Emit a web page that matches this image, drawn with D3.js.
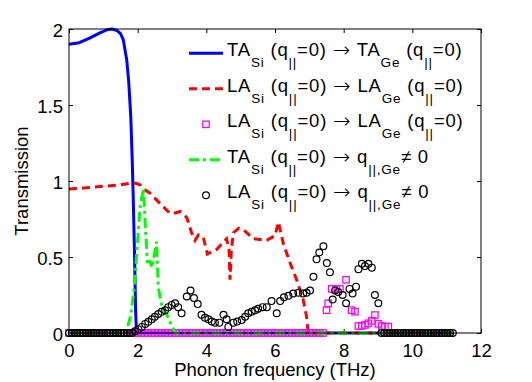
<!DOCTYPE html>
<html>
<head>
<meta charset="utf-8">
<script src="https://cdn.jsdelivr.net/npm/d3@7"></script>
<style>
  body { margin: 0; background: #fff; }
  svg { display: block; font-family: "Liberation Sans", Arial, Helvetica, sans-serif; }
</style>
</head>
<body>
<div id="chart"></div>
<script>
"use strict"

// TA(Si) -> TA(Ge), solid blue
const taFreq = [0, 0.3, 0.6, 0.9, 1.1, 1.25, 1.4, 1.5, 1.58, 1.68, 1.74, 1.8, 1.84, 1.87, 1.91, 1.94, 1.96, 1.99, 11.2]
const taTrans = [1.9, 1.91, 1.94, 1.975, 1.995, 2.0, 1.99, 1.97, 1.93, 1.8, 1.65, 1.42, 1.15, 0.9, 0.5, 0.15, 0.03, 0, 0]

// LA(Si) -> LA(Ge), dashed red
const laFreq = [0, 0.5, 1.0, 1.5, 1.78, 1.95, 2.07, 2.16, 2.36, 2.65, 2.94, 3.1, 3.23, 3.43, 3.57, 3.67, 3.77, 3.91,
  4.03, 4.3, 4.59, 4.66, 4.69, 4.73, 4.79, 4.95, 5.08, 5.37, 5.76, 6.0, 6.1, 6.24, 6.44, 6.63, 6.82, 6.92, 6.96, 7.0, 11.2]
const laTrans = [0.947, 0.955, 0.965, 0.975, 0.985, 0.985, 0.975, 0.95, 0.92, 0.853, 0.787, 0.79, 0.8, 0.76, 0.66, 0.61, 0.645, 0.63,
  0.52, 0.55, 0.62, 0.55, 0.35, 0.55, 0.66, 0.69, 0.68, 0.62, 0.61, 0.64, 0.73, 0.59, 0.46, 0.35, 0.22, 0.107, 0.02, 0, 0]

// LA(Si) -> LA(Ge), magenta squares
const sqFreq = [0, 0.1, 0.2, 0.3, 0.4, 0.5, 0.6, 0.7, 0.8, 0.9, 1.0, 1.1, 1.2, 1.3, 1.4, 1.5, 1.6, 1.7, 1.8, 1.9,
  2.0, 2.1, 2.2, 2.3, 2.4, 2.5, 2.6, 2.7, 2.8, 2.9, 3.0, 3.1, 3.2, 3.3, 3.4, 3.5, 3.6, 3.7, 3.8, 3.9,
  4.0, 4.1, 4.2, 4.3, 4.4, 4.5, 4.6, 4.7, 4.8, 4.9, 5.0, 5.1, 5.2, 5.3, 5.4, 5.5, 5.6, 5.7, 5.8, 5.9,
  6.0, 6.1, 6.2, 6.3, 6.4, 6.5, 6.6, 6.7, 6.8, 6.9, 7.0, 7.1, 7.2, 7.3, 7.4,
  7.5, 7.55, 7.65, 7.78, 7.89, 8.07, 8.23, 8.33, 8.43, 8.53, 8.62, 8.72, 8.82, 8.91, 9.01, 9.11, 9.2, 9.3]
const sqTrans = [0, 0, 0, 0, 0, 0, 0, 0, 0, 0, 0, 0, 0, 0, 0, 0, 0, 0, 0, 0,
  0, 0, 0, 0, 0, 0, 0, 0, 0, 0, 0, 0, 0, 0, 0, 0, 0, 0, 0, 0,
  0, 0, 0, 0, 0, 0, 0, 0, 0, 0, 0, 0, 0, 0, 0, 0, 0, 0, 0, 0,
  0, 0, 0, 0, 0, 0, 0, 0, 0, 0, 0, 0, 0, 0, 0,
  0.15, 0.195, 0.29, 0.29, 0.29, 0.35, 0.15, 0.14, 0.046, 0.046, 0.053, 0.064, 0.08, 0.118, 0.06, 0.046, 0.042, 0.042]

// TA(Si) -> q != 0, green dash-dot
const tqFreq = [0, 1.6, 1.7, 1.8, 1.9, 1.97, 2.07, 2.17, 2.22, 2.28, 2.36, 2.42, 2.55, 2.6, 2.7, 2.85, 3.0, 3.1, 11.2]
const tqTrans = [0, 0, 0.03, 0.12, 0.3, 0.52, 0.83, 0.95, 0.72, 0.47, 0.47, 0.43, 0.6, 0.3, 0.18, 0.12, 0.04, 0, 0]

// LA(Si) -> q != 0, black circles
const lqFreq = [0, 0.08, 0.16, 0.24, 0.32, 0.4, 0.48, 0.56, 0.64, 0.72, 0.8, 0.88, 0.96, 1.04, 1.12, 1.2,
  1.28, 1.36, 1.44, 1.52, 1.6, 1.68, 1.76, 1.84,
  1.92, 2.02, 2.12, 2.22, 2.31, 2.41, 2.5, 2.6, 2.7, 2.8, 2.89, 2.99, 3.09, 3.18, 3.28, 3.43, 3.54, 3.64,
  3.75, 3.86, 3.96, 4.06, 4.16, 4.25, 4.38, 4.5, 4.59, 4.64, 4.79, 4.9, 5.03, 5.13, 5.22, 5.32, 5.42, 5.51,
  5.64, 5.76, 5.9, 6.05, 6.15, 6.26, 6.39, 6.53, 6.68, 6.82, 6.92, 7.02, 7.12, 7.21, 7.29, 7.41, 7.51, 7.6,
  7.68, 7.75, 7.84, 7.97, 8.07, 8.17, 8.26, 8.36, 8.43, 8.53, 8.62, 8.72, 8.82, 8.91, 9.01,
  9.1, 9.18, 9.26, 9.34, 9.42, 9.5, 9.58, 9.66, 9.74, 9.82, 9.9, 9.98, 10.06, 10.14, 10.22, 10.3,
  10.38, 10.46, 10.54, 10.62, 10.7, 10.78, 10.86, 10.94, 11.02, 11.1, 11.18]
const lqTrans = [0, 0, 0, 0, 0, 0, 0, 0, 0, 0, 0, 0, 0, 0, 0, 0,
  0, 0, 0, 0, 0, 0, 0, 0,
  0.012, 0.024, 0.04, 0.06, 0.074, 0.09, 0.107, 0.125, 0.14, 0.15, 0.17, 0.185, 0.195, 0.17, 0.13, 0.24, 0.28, 0.23,
  0.19, 0.12, 0.1, 0.09, 0.075, 0.068, 0.068, 0.12, 0.09, 0.04, 0.068, 0.075, 0.085, 0.107, 0.13, 0.14, 0.15, 0.16,
  0.17, 0.17, 0.21, 0.13, 0.21, 0.235, 0.245, 0.26, 0.265, 0.26, 0.265, 0.28, 0.37, 0.485, 0.53, 0.57, 0.46, 0.4,
  0.22, 0.28, 0.27, 0.25, 0.195, 0.29, 0.26, 0.305, 0.42, 0.455, 0.44, 0.455, 0.43, 0.25, 0.195,
  0, 0, 0, 0, 0, 0, 0, 0, 0, 0, 0, 0, 0, 0, 0, 0,
  0, 0, 0, 0, 0, 0, 0, 0, 0, 0, 0]

const xTicks = [0, 2, 4, 6, 8, 10, 12]
const yTicks = [0, 0.5, 1, 1.5, 2]

// legend text pieces: [text, kind] kind 0 normal, 1 subscript, 2 arrow
const legendLabels = [
  [["TA", 0], ["Si", 1], [" (q", 0], ["||", 1], ["=0) ", 0], ["\u2192", 2], [" TA", 0], ["Ge", 1], [" (q", 0], ["||", 1], ["=0)", 0]],
  [["LA", 0], ["Si", 1], [" (q", 0], ["||", 1], ["=0) ", 0], ["\u2192", 2], [" LA", 0], ["Ge", 1], [" (q", 0], ["||", 1], ["=0)", 0]],
  [["LA", 0], ["Si", 1], [" (q", 0], ["||", 1], ["=0) ", 0], ["\u2192", 2], [" LA", 0], ["Ge", 1], [" (q", 0], ["||", 1], ["=0)", 0]],
  [["TA", 0], ["Si", 1], [" (q", 0], ["||", 1], ["=0) ", 0], ["\u2192", 2], [" q", 0], ["||,Ge", 1], ["\u2260 0", 0]],
  [["LA", 0], ["Si", 1], [" (q", 0], ["||", 1], ["=0) ", 0], ["\u2192", 2], [" q", 0], ["||,Ge", 1], ["\u2260 0", 0]]
]

const W = 532, H = 382
const plot = {left: 69, right: 481, top: 29, bottom: 333}

const svg = d3.select("#chart").append("svg")
  .attr("width", W)
  .attr("height", H)

const x = d3.scaleLinear().domain([0, 12]).range([plot.left, plot.right])
const y = d3.scaleLinear().domain([0, 2]).range([plot.bottom, plot.top])

const fontSize = 18.5

// axes, ticks pointing inward on all four sides
function styleAxis(g) {
  g.select(".domain").remove()
  g.selectAll(".tick line").attr("stroke", "#000").attr("stroke-width", 1)
  g.selectAll(".tick text").attr("fill", "#000").style("font-size", fontSize + "px")
}
svg.append("g")
  .attr("transform", "translate(0," + plot.bottom + ")")
  .call(d3.axisBottom(x).tickValues(xTicks).tickSize(-4).tickPadding(10.5).tickFormat(d3.format("d")))
  .call(styleAxis)
svg.append("g")
  .attr("transform", "translate(0," + plot.top + ")")
  .call(d3.axisTop(x).tickValues(xTicks).tickSize(-4).tickFormat(""))
  .call(styleAxis)
svg.append("g")
  .attr("transform", "translate(" + plot.left + ",0)")
  .call(d3.axisLeft(y).tickValues(yTicks).tickSize(-4).tickPadding(6).tickFormat(d => String(d)))
  .call(styleAxis)
  .call(g => g.selectAll(".tick text").attr("dy", "0.38em"))
svg.append("g")
  .attr("transform", "translate(" + plot.right + ",0)")
  .call(d3.axisRight(y).tickValues(yTicks).tickSize(-4).tickFormat(""))
  .call(styleAxis)

const lineGen = (fx, ty) => d3.line()
  .x(i => x(fx[i]))
  .y(i => y(ty[i]))(d3.range(fx.length))

const body = svg.append("g")

// blue TA
body.append("path")
  .attr("d", lineGen(taFreq, taTrans))
  .attr("fill", "none")
  .attr("stroke", "#0000ff")
  .attr("stroke-width", 3)
  .attr("stroke-linejoin", "round")

// red LA dashed
body.append("path")
  .attr("d", lineGen(laFreq, laTrans))
  .attr("fill", "none")
  .attr("stroke", "#ff0000")
  .attr("stroke-width", 3)
  .attr("stroke-dasharray", "8,5")

// magenta squares
const sq = 6.4
body.append("g").selectAll("rect")
  .data(d3.range(sqFreq.length))
  .join("rect")
  .attr("x", i => x(sqFreq[i]) - sq / 2)
  .attr("y", i => y(sqTrans[i]) - sq / 2)
  .attr("width", sq)
  .attr("height", sq)
  .attr("fill", "none")
  .attr("stroke", "#ff00ff")
  .attr("stroke-width", 1.3)

// green dash-dot
body.append("path")
  .attr("d", lineGen(tqFreq, tqTrans))
  .attr("fill", "none")
  .attr("stroke", "#00ff00")
  .attr("stroke-width", 3)
  .attr("stroke-dasharray", "10,4,3,4")

// black circles
body.append("g").selectAll("circle")
  .data(d3.range(lqFreq.length))
  .join("circle")
  .attr("cx", i => x(lqFreq[i]))
  .attr("cy", i => y(lqTrans[i]))
  .attr("r", 3.4)
  .attr("fill", "none")
  .attr("stroke", "#000")
  .attr("stroke-width", 1.2)

// frame
svg.append("rect")
  .attr("x", plot.left)
  .attr("y", plot.top)
  .attr("width", plot.right - plot.left)
  .attr("height", plot.bottom - plot.top)
  .attr("fill", "none")
  .attr("stroke", "#000")
  .attr("stroke-width", 1)

// axis titles
svg.append("text")
  .attr("x", (plot.left + plot.right) / 2)
  .attr("y", 376)
  .attr("text-anchor", "middle")
  .style("font-size", fontSize + "px")
  .text("Phonon frequency (THz)")
svg.append("text")
  .attr("transform", "translate(28," + (plot.top + plot.bottom) / 2 + ") rotate(-90)")
  .attr("text-anchor", "middle")
  .style("font-size", fontSize + "px")
  .text("Transmission")

// legend
const legend = svg.append("g")
const rowY = i => 53.3 + 35.5 * i
const styles = [
  {stroke: "#0000ff", dash: null},
  {stroke: "#ff0000", dash: "8,5"},
  {marker: "square"},
  {stroke: "#00ff00", dash: "10,4,3,4"},
  {marker: "circle"}
]
styles.forEach((s, i) => {
  const yy = rowY(i)
  if (s.stroke) {
    legend.append("line")
      .attr("x1", 189).attr("x2", 223).attr("y1", yy).attr("y2", yy)
      .attr("stroke", s.stroke).attr("stroke-width", 3)
      .attr("stroke-dasharray", s.dash)
  } else if (s.marker === "square") {
    legend.append("rect")
      .attr("x", 206 - sq / 2).attr("y", yy - sq / 2).attr("width", sq).attr("height", sq)
      .attr("fill", "none").attr("stroke", "#ff00ff").attr("stroke-width", 1.3)
  } else {
    legend.append("circle")
      .attr("cx", 206).attr("cy", yy).attr("r", 3.4)
      .attr("fill", "none").attr("stroke", "#000").attr("stroke-width", 1.2)
  }
  const t = legend.append("text")
    .attr("x", 227)
    .attr("y", yy + 3)
    .style("font-size", fontSize + "px")
    .style("letter-spacing", "0.8px")
  let shift = 0
  legendLabels[i].forEach(([txt, kind]) => {
    const want = kind === 1 ? 11 : kind === 2 ? 1 : 0
    const sp = t.append("tspan").text(txt)
    if (want !== shift) { sp.attr("dy", want - shift); shift = want }
    if (kind === 1) sp.style("font-size", "13.5px")
    if (kind === 2) sp.style("font-size", "21px").style("font-family", "'DejaVu Sans'").style("font-weight", 200)
  })
})
</script>
</body>
</html>
